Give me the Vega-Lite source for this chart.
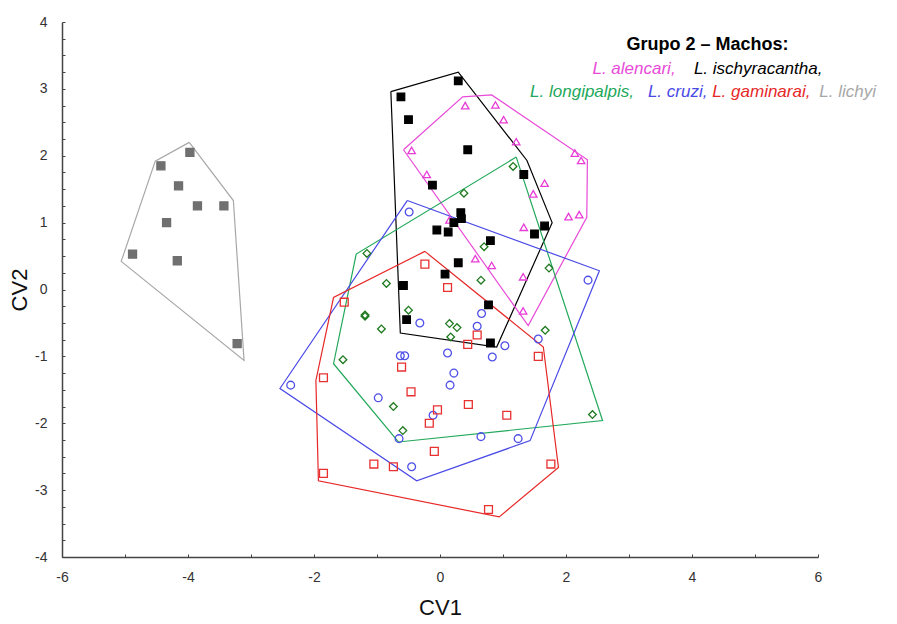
{
  "$schema": "https://vega.github.io/schema/vega-lite/v6.json",
  "width": 756,
  "height": 535,
  "autosize": {"type": "none"},
  "padding": {"left": 62, "top": 22, "right": 79, "bottom": 67},
  "background": "white",
  "config": {
    "view": {"stroke": null},
    "font": "Liberation Sans",
    "axis": {"grid": false}
  },
  "datasets": {
    "points": [
      {"species": "lichyi", "cv1": -3.97, "cv2": 2.05},
      {"species": "lichyi", "cv1": -4.43, "cv2": 1.85},
      {"species": "lichyi", "cv1": -4.15, "cv2": 1.55},
      {"species": "lichyi", "cv1": -3.85, "cv2": 1.25},
      {"species": "lichyi", "cv1": -3.43, "cv2": 1.25},
      {"species": "lichyi", "cv1": -4.34, "cv2": 1.0},
      {"species": "lichyi", "cv1": -4.88, "cv2": 0.53},
      {"species": "lichyi", "cv1": -4.17, "cv2": 0.43},
      {"species": "lichyi", "cv1": -3.22, "cv2": -0.81},
      {"species": "alencari", "cv1": 0.40, "cv2": 2.75},
      {"species": "alencari", "cv1": 0.88, "cv2": 2.76},
      {"species": "alencari", "cv1": 1.01, "cv2": 2.54},
      {"species": "alencari", "cv1": 1.21, "cv2": 2.21},
      {"species": "alencari", "cv1": -0.45, "cv2": 2.08},
      {"species": "alencari", "cv1": -0.21, "cv2": 1.72},
      {"species": "alencari", "cv1": 2.14, "cv2": 2.04},
      {"species": "alencari", "cv1": 2.24, "cv2": 1.93},
      {"species": "alencari", "cv1": 1.66, "cv2": 1.59},
      {"species": "alencari", "cv1": 1.48, "cv2": 1.43},
      {"species": "alencari", "cv1": 2.04, "cv2": 1.09},
      {"species": "alencari", "cv1": 2.21, "cv2": 1.12},
      {"species": "alencari", "cv1": 1.33, "cv2": 0.93},
      {"species": "alencari", "cv1": 0.15, "cv2": 1.04},
      {"species": "alencari", "cv1": 0.56, "cv2": 0.46},
      {"species": "alencari", "cv1": 0.82, "cv2": 0.36},
      {"species": "alencari", "cv1": 1.32, "cv2": 0.19},
      {"species": "alencari", "cv1": 1.32, "cv2": -0.32},
      {"species": "longipalpis", "cv1": 1.16, "cv2": 1.84},
      {"species": "longipalpis", "cv1": 0.38, "cv2": 1.44},
      {"species": "longipalpis", "cv1": 0.70, "cv2": 0.64},
      {"species": "longipalpis", "cv1": 1.73, "cv2": 0.32},
      {"species": "longipalpis", "cv1": 0.65, "cv2": 0.14},
      {"species": "longipalpis", "cv1": 0.15, "cv2": -0.51},
      {"species": "longipalpis", "cv1": 0.27, "cv2": -0.57},
      {"species": "longipalpis", "cv1": 0.17, "cv2": -0.71},
      {"species": "longipalpis", "cv1": 1.67, "cv2": -0.61},
      {"species": "longipalpis", "cv1": -1.16, "cv2": 0.54},
      {"species": "longipalpis", "cv1": -0.85, "cv2": 0.09},
      {"species": "longipalpis", "cv1": -0.50, "cv2": -0.31},
      {"species": "longipalpis", "cv1": -1.19, "cv2": -0.38},
      {"species": "longipalpis", "cv1": -1.19, "cv2": -0.40},
      {"species": "longipalpis", "cv1": -0.93, "cv2": -0.59},
      {"species": "longipalpis", "cv1": -1.54, "cv2": -1.05},
      {"species": "longipalpis", "cv1": -0.74, "cv2": -1.75},
      {"species": "longipalpis", "cv1": -0.59, "cv2": -2.11},
      {"species": "longipalpis", "cv1": 2.42, "cv2": -1.87},
      {"species": "cruzi", "cv1": -0.49, "cv2": 1.16},
      {"species": "cruzi", "cv1": -0.32, "cv2": -0.50},
      {"species": "cruzi", "cv1": -0.63, "cv2": -0.99},
      {"species": "cruzi", "cv1": -0.56, "cv2": -0.99},
      {"species": "cruzi", "cv1": 0.12, "cv2": -0.95},
      {"species": "cruzi", "cv1": 2.35, "cv2": 0.14},
      {"species": "cruzi", "cv1": 0.66, "cv2": -0.36},
      {"species": "cruzi", "cv1": 0.59, "cv2": -0.55},
      {"species": "cruzi", "cv1": 1.56, "cv2": -0.74},
      {"species": "cruzi", "cv1": 1.03, "cv2": -0.84},
      {"species": "cruzi", "cv1": 0.83, "cv2": -1.01},
      {"species": "cruzi", "cv1": 0.22, "cv2": -1.25},
      {"species": "cruzi", "cv1": 0.16, "cv2": -1.43},
      {"species": "cruzi", "cv1": -2.37, "cv2": -1.43},
      {"species": "cruzi", "cv1": -0.98, "cv2": -1.62},
      {"species": "cruzi", "cv1": -0.11, "cv2": -1.88},
      {"species": "cruzi", "cv1": -0.65, "cv2": -2.23},
      {"species": "cruzi", "cv1": -0.45, "cv2": -2.65},
      {"species": "cruzi", "cv1": 0.65, "cv2": -2.20},
      {"species": "cruzi", "cv1": 1.24, "cv2": -2.23},
      {"species": "gaminarai", "cv1": -0.24, "cv2": 0.38},
      {"species": "gaminarai", "cv1": 0.12, "cv2": 0.03},
      {"species": "gaminarai", "cv1": -1.52, "cv2": -0.19},
      {"species": "gaminarai", "cv1": 0.44, "cv2": -0.82},
      {"species": "gaminarai", "cv1": 0.59, "cv2": -0.68},
      {"species": "gaminarai", "cv1": 1.56, "cv2": -1.0},
      {"species": "gaminarai", "cv1": -0.61, "cv2": -1.16},
      {"species": "gaminarai", "cv1": -1.85, "cv2": -1.32},
      {"species": "gaminarai", "cv1": -0.46, "cv2": -1.53},
      {"species": "gaminarai", "cv1": -0.04, "cv2": -1.80},
      {"species": "gaminarai", "cv1": -0.17, "cv2": -2.0},
      {"species": "gaminarai", "cv1": 0.45, "cv2": -1.72},
      {"species": "gaminarai", "cv1": 1.06, "cv2": -1.88},
      {"species": "gaminarai", "cv1": -0.09, "cv2": -2.42},
      {"species": "gaminarai", "cv1": -1.05, "cv2": -2.61},
      {"species": "gaminarai", "cv1": -0.74, "cv2": -2.65},
      {"species": "gaminarai", "cv1": -1.85, "cv2": -2.75},
      {"species": "gaminarai", "cv1": 1.76, "cv2": -2.61},
      {"species": "gaminarai", "cv1": 0.77, "cv2": -3.29},
      {"species": "ischyracantha", "cv1": 0.29, "cv2": 3.12},
      {"species": "ischyracantha", "cv1": -0.62, "cv2": 2.88},
      {"species": "ischyracantha", "cv1": -0.50, "cv2": 2.54},
      {"species": "ischyracantha", "cv1": 0.44, "cv2": 2.09},
      {"species": "ischyracantha", "cv1": -0.12, "cv2": 1.56},
      {"species": "ischyracantha", "cv1": 1.33, "cv2": 1.72},
      {"species": "ischyracantha", "cv1": 0.33, "cv2": 1.15},
      {"species": "ischyracantha", "cv1": 0.34, "cv2": 1.06},
      {"species": "ischyracantha", "cv1": 0.22, "cv2": 1.0},
      {"species": "ischyracantha", "cv1": -0.05, "cv2": 0.89},
      {"species": "ischyracantha", "cv1": 0.13, "cv2": 0.86},
      {"species": "ischyracantha", "cv1": 1.66, "cv2": 0.95},
      {"species": "ischyracantha", "cv1": 1.50, "cv2": 0.83},
      {"species": "ischyracantha", "cv1": 0.80, "cv2": 0.73},
      {"species": "ischyracantha", "cv1": 0.29, "cv2": 0.40},
      {"species": "ischyracantha", "cv1": 0.08, "cv2": 0.23},
      {"species": "ischyracantha", "cv1": -0.58, "cv2": 0.06},
      {"species": "ischyracantha", "cv1": -0.53, "cv2": -0.45},
      {"species": "ischyracantha", "cv1": 0.77, "cv2": -0.23},
      {"species": "ischyracantha", "cv1": 0.80, "cv2": -0.80}
    ],
    "hulls": [
      {"species": "lichyi", "o": 0, "cv1": -3.98, "cv2": 2.2},
      {"species": "lichyi", "o": 1, "cv1": -3.28, "cv2": 1.33},
      {"species": "lichyi", "o": 2, "cv1": -3.11, "cv2": -1.06},
      {"species": "lichyi", "o": 3, "cv1": -5.06, "cv2": 0.42},
      {"species": "lichyi", "o": 4, "cv1": -4.52, "cv2": 1.92},
      {"species": "lichyi", "o": 5, "cv1": -3.98, "cv2": 2.2},
      {"species": "ischyracantha", "o": 0, "cv1": -0.78, "cv2": 2.96},
      {"species": "ischyracantha", "o": 1, "cv1": 0.29, "cv2": 3.25},
      {"species": "ischyracantha", "o": 2, "cv1": 1.38, "cv2": 1.93},
      {"species": "ischyracantha", "o": 3, "cv1": 1.78, "cv2": 1.0},
      {"species": "ischyracantha", "o": 4, "cv1": 0.9, "cv2": -0.86},
      {"species": "ischyracantha", "o": 5, "cv1": -0.63, "cv2": -0.65},
      {"species": "ischyracantha", "o": 6, "cv1": -0.78, "cv2": 2.96},
      {"species": "alencari", "o": 0, "cv1": -0.58, "cv2": 2.09},
      {"species": "alencari", "o": 1, "cv1": 0.36, "cv2": 2.88},
      {"species": "alencari", "o": 2, "cv1": 0.82, "cv2": 2.91},
      {"species": "alencari", "o": 3, "cv1": 2.34, "cv2": 1.94},
      {"species": "alencari", "o": 4, "cv1": 2.33, "cv2": 1.08},
      {"species": "alencari", "o": 5, "cv1": 1.40, "cv2": -0.54},
      {"species": "alencari", "o": 6, "cv1": -0.58, "cv2": 2.09},
      {"species": "longipalpis", "o": 0, "cv1": 1.21, "cv2": 1.98},
      {"species": "longipalpis", "o": 1, "cv1": 2.58, "cv2": -1.96},
      {"species": "longipalpis", "o": 2, "cv1": -0.66, "cv2": -2.28},
      {"species": "longipalpis", "o": 3, "cv1": -1.69, "cv2": -1.11},
      {"species": "longipalpis", "o": 4, "cv1": -1.33, "cv2": 0.53},
      {"species": "longipalpis", "o": 5, "cv1": 1.21, "cv2": 1.98},
      {"species": "cruzi", "o": 0, "cv1": -0.52, "cv2": 1.33},
      {"species": "cruzi", "o": 1, "cv1": 2.53, "cv2": 0.28},
      {"species": "cruzi", "o": 2, "cv1": 1.43, "cv2": -2.26},
      {"species": "cruzi", "o": 3, "cv1": -0.37, "cv2": -2.86},
      {"species": "cruzi", "o": 4, "cv1": -2.54, "cv2": -1.48},
      {"species": "cruzi", "o": 5, "cv1": -0.52, "cv2": 1.33},
      {"species": "gaminarai", "o": 0, "cv1": -0.24, "cv2": 0.57},
      {"species": "gaminarai", "o": 1, "cv1": 1.64, "cv2": -0.86},
      {"species": "gaminarai", "o": 2, "cv1": 1.88, "cv2": -2.66},
      {"species": "gaminarai", "o": 3, "cv1": 0.94, "cv2": -3.40},
      {"species": "gaminarai", "o": 4, "cv1": -1.93, "cv2": -2.86},
      {"species": "gaminarai", "o": 5, "cv1": -1.97, "cv2": -1.36},
      {"species": "gaminarai", "o": 6, "cv1": -1.69, "cv2": -0.12},
      {"species": "gaminarai", "o": 7, "cv1": -0.24, "cv2": 0.57}
    ],
    "labels": [
      {"species": "header", "text": "Grupo 2 – Machos:", "cv1": 2.96, "cv2": 3.65},
      {"species": "alencari", "text": "L. alencari,", "cv1": 2.42, "cv2": 3.29},
      {"species": "ischyracantha", "text": "L. ischyracantha,", "cv1": 4.03, "cv2": 3.29},
      {"species": "longipalpis", "text": "L. longipalpis,", "cv1": 1.43, "cv2": 2.96},
      {"species": "cruzi", "text": "L. cruzi,", "cv1": 3.30, "cv2": 2.96},
      {"species": "gaminarai", "text": "L. gaminarai,", "cv1": 4.32, "cv2": 2.96},
      {"species": "lichyi", "text": "L. lichyi", "cv1": 6.02, "cv2": 2.96}
    ]
  },
  "encoding": {
    "x": {
      "field": "cv1", "type": "quantitative",
      "scale": {"domain": [-6, 6], "nice": false, "zero": false},
      "axis": {
        "title": "CV1", "titleFontSize": 22, "titleFontWeight": "normal", "titleColor": "#111", "titlePadding": 13,
        "values": [-6, -5, -4, -3, -2, -1, 0, 1, 2, 3, 4, 5, 6],
        "labelExpr": "datum.value % 2 === 0 ? '' + datum.value : ''",
        "labelFontSize": 14, "labelColor": "#333", "labelPadding": 16, "labelFlush": false,
        "tickSize": -3, "tickColor": "#444", "domainColor": "#444", "domainWidth": 1.5
      }
    },
    "y": {
      "field": "cv2", "type": "quantitative",
      "scale": {"domain": [-4, 4], "nice": false, "zero": false},
      "axis": {
        "title": "CV2", "titleFontSize": 22, "titleFontWeight": "normal", "titleColor": "#111", "titlePadding": 3,
        "values": [-4, -3.75, -3.5, -3.25, -3, -2.75, -2.5, -2.25, -2, -1.75, -1.5, -1.25, -1, -0.75, -0.5, -0.25, 0, 0.25, 0.5, 0.75, 1, 1.25, 1.5, 1.75, 2, 2.25, 2.5, 2.75, 3, 3.25, 3.5, 3.75, 4],
        "labelExpr": "datum.value % 1 === 0 ? '' + datum.value : ''",
        "labelFontSize": 14, "labelColor": "#333", "labelPadding": 18, "labelFlush": false, "labelOverlap": false,
        "tickSize": -3, "tickColor": "#444", "domainColor": "#444", "domainWidth": 1.5
      }
    }
  },
  "layer": [
    {
      "data": {"name": "hulls"},
      "mark": {"type": "line", "strokeWidth": 1.2},
      "encoding": {
        "order": {"field": "o", "type": "quantitative"},
        "detail": {"field": "species"},
        "color": {
          "field": "species", "type": "nominal", "legend": null,
          "scale": {
            "domain": ["alencari", "ischyracantha", "longipalpis", "cruzi", "gaminarai", "lichyi", "header"],
            "range": ["#e84ad8", "#000000", "#22a85a", "#4a4ae6", "#e62828", "#a8a8a8", "#000000"]
          }
        }
      }
    },
    {
      "data": {"name": "points"},
      "mark": {"type": "point", "strokeWidth": 1.3, "opacity": 1},
      "encoding": {
        "shape": {
          "field": "species", "type": "nominal", "legend": null,
          "scale": {
            "domain": ["alencari", "ischyracantha", "longipalpis", "cruzi", "gaminarai", "lichyi"],
            "range": ["triangle-up", "square", "diamond", "circle", "square", "square"]
          }
        },
        "stroke": {
          "field": "species", "type": "nominal", "legend": null,
          "scale": {
            "domain": ["alencari", "ischyracantha", "longipalpis", "cruzi", "gaminarai", "lichyi"],
            "range": ["#e83cd8", "#000000", "#1e7a1e", "#5050e8", "#e83030", "#6e6e6e"]
          }
        },
        "fill": {
          "field": "species", "type": "nominal", "legend": null,
          "scale": {
            "domain": ["alencari", "ischyracantha", "longipalpis", "cruzi", "gaminarai", "lichyi"],
            "range": ["transparent", "#000000", "transparent", "transparent", "transparent", "#707070"]
          }
        },
        "size": {
          "field": "species", "type": "nominal", "legend": null,
          "scale": {
            "domain": ["alencari", "ischyracantha", "longipalpis", "cruzi", "gaminarai", "lichyi"],
            "range": [55, 64, 38, 60, 64, 75]
          }
        }
      }
    },
    {
      "data": {"name": "labels"},
      "transform": [{"filter": "datum.species === 'header'"}],
      "mark": {"type": "text", "align": "left", "baseline": "middle", "fontSize": 18, "fontWeight": "bold"},
      "encoding": {
        "text": {"field": "text"},
        "color": {"field": "species", "type": "nominal", "legend": null}
      }
    },
    {
      "data": {"name": "labels"},
      "transform": [{"filter": "datum.species !== 'header'"}],
      "mark": {"type": "text", "align": "left", "baseline": "middle", "fontSize": 17, "fontStyle": "italic"},
      "encoding": {
        "text": {"field": "text"},
        "color": {"field": "species", "type": "nominal", "legend": null}
      }
    }
  ]
}
